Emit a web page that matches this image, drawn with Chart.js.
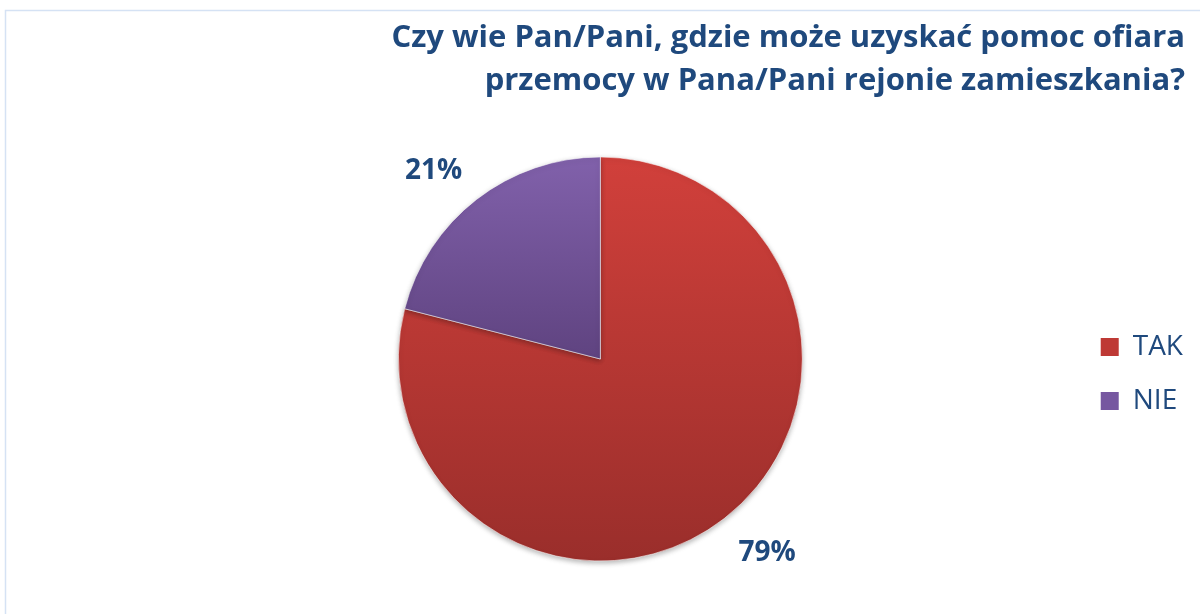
<!DOCTYPE html>
<html>
<head>
<meta charset="utf-8">
<script src="https://cdn.jsdelivr.net/npm/chart.js@4.4.1/dist/chart.umd.min.js"></script>
<style>
  html, body { margin: 0; padding: 0; background: #fff; }
  #wrap { width: 1200px; height: 614px; }
</style>
</head>
<body>
<div id="wrap"><canvas id="pieChart"></canvas></div>
<script>
const titleLines = ['Czy wie Pan/Pani, gdzie może uzyskać pomoc ofiara', 'przemocy w Pana/Pani rejonie zamieszkania?'];
const answers = ['TAK', 'NIE'];
const shares = [79, 21];

const navy = '#1F497D';
const sliceTop = ['#D1403B', '#8161AB'];
const sliceBottom = ['#9A2E2B', '#5F4380'];
const legendColors = ['#BE3935', '#7657A0'];
const PIE_R = 202;

// vertical gradient per slice, like the office chart fill
function sliceFill(ctx) {
  const area = ctx.chart.chartArea;
  const i = ctx.dataIndex;
  if (!area) return sliceTop[i];
  const cy = (area.top + area.bottom) / 2;
  const bottom = i === 0 ? cy + PIE_R : cy;
  const g = ctx.chart.ctx.createLinearGradient(0, cy - PIE_R, 0, bottom);
  g.addColorStop(0, sliceTop[i]);
  g.addColorStop(1, sliceBottom[i]);
  return g;
}

const framePlugin = {
  id: 'frame',
  beforeDraw(chart) {
    const { ctx } = chart;
    ctx.save();
    ctx.fillStyle = '#fff';
    ctx.fillRect(0, 0, chart.width, chart.height);
    ctx.strokeStyle = '#D5E2F4';
    ctx.lineWidth = 1.5;
    ctx.strokeRect(5.5, 10.5, chart.width + 20, chart.height + 20);
    ctx.restore();
  }
};

const shadowPlugin = {
  id: 'pieShadow',
  beforeDatasetDraw(chart) {
    const { ctx } = chart;
    ctx.save();
    ctx.shadowColor = 'rgba(0,0,0,0.28)';
    ctx.shadowBlur = 5;
    ctx.shadowOffsetY = 2;
  },
  afterDatasetDraw(chart) {
    chart.ctx.restore();
  }
};

const pctLabels = {
  id: 'pctLabels',
  afterDatasetsDraw(chart) {
    const { ctx } = chart;
    const meta = chart.getDatasetMeta(0);
    ctx.save();
    ctx.font = "bold 28px 'Open Sans'";
    ctx.fillStyle = navy;
    ctx.textAlign = 'center';
    ctx.textBaseline = 'middle';
    meta.data.forEach((arc, i) => {
      const { x, y, startAngle, endAngle, outerRadius } =
        arc.getProps(['x', 'y', 'startAngle', 'endAngle', 'outerRadius'], true);
      const mid = (startAngle + endAngle) / 2;
      ctx.fillText(shares[i] + '%',
        x + Math.cos(mid) * (outerRadius + 70),
        y + Math.sin(mid) * (outerRadius + 40) + 3);
    });
    ctx.restore();
  }
};

new Chart(document.getElementById('pieChart'), {
  type: 'pie',
  data: {
    labels: answers,
    datasets: [{
      data: shares,
      backgroundColor: sliceFill,
      borderColor: 'rgba(255,255,255,0.55)',
      borderWidth: 1,
      radius: PIE_R
    }]
  },
  options: {
    responsive: true,
    maintainAspectRatio: false,
    animation: false,
    layout: { padding: { top: 17, left: 126, right: 7, bottom: 46 } },
    plugins: {
      title: {
        display: true,
        // trailing space keeps the right-aligned title clear of the frame edge
        text: titleLines.map(s => s + ' '),
        align: 'end',
        color: navy,
        font: { family: "'Open Sans'", size: 31, weight: 'bold', lineHeight: 43 / 31 },
        padding: { top: 0, bottom: 47 }
      },
      legend: {
        position: 'right',
        fullSize: false,
        align: 'center',
        title: { display: true, text: ' ', padding: 0, font: { size: 25, lineHeight: 1.2 } },
        labels: {
          boxWidth: 18,
          boxHeight: 18,
          padding: 26,
          color: navy,
          font: { family: "'Open Sans'", size: 28 },
          generateLabels: (chart) => answers.map((text, i) => ({
            text,
            fillStyle: legendColors[i],
            strokeStyle: legendColors[i],
            lineWidth: 0,
            fontColor: navy,
            hidden: !chart.getDataVisibility(i),
            index: i
          }))
        }
      },
      tooltip: { enabled: false }
    }
  },
  plugins: [framePlugin, shadowPlugin, pctLabels]
});
</script>
</body>
</html>
